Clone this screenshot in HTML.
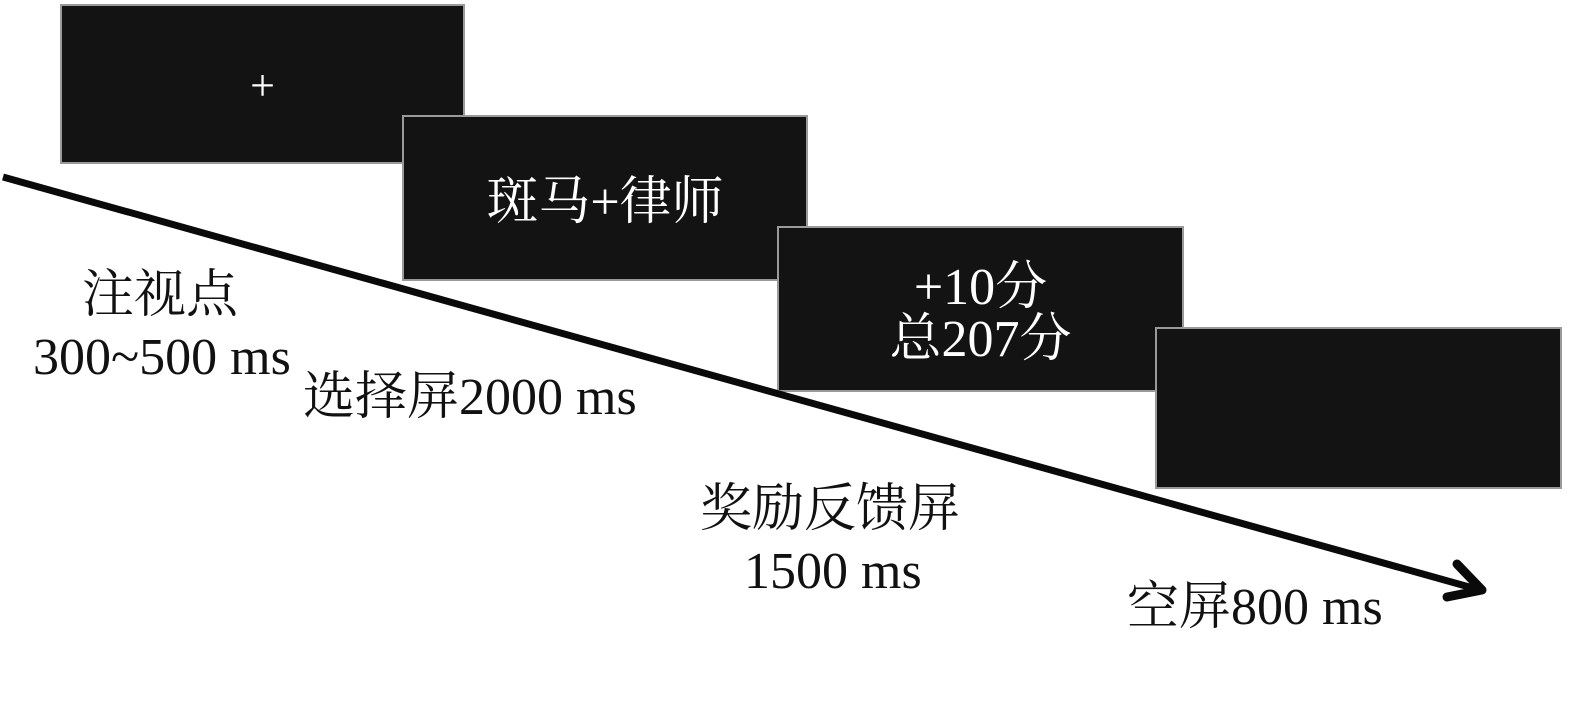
<!DOCTYPE html>
<html><head><meta charset="utf-8"><style>
body{margin:0;width:1575px;height:725px;background:#fff;position:relative;overflow:hidden;font-family:"Liberation Serif","Noto Serif CJK SC",serif;}
.b{position:absolute;background:#131313;border:2px solid #9a9a9a;box-sizing:border-box;color:#fff;text-align:center;}
.t{position:absolute;font-size:52px;color:#111;white-space:nowrap;line-height:1;}
</style></head><body>
<div class="b" style="left:60px;top:4px;width:405px;height:160px;"><div style="position:absolute;left:0;right:0;top:58px;font-size:44px;line-height:1;">+</div></div>
<div class="b" style="left:402px;top:115px;width:406px;height:166px;"><div style="position:absolute;left:0;right:0;top:60px;font-size:52px;line-height:1;">斑马+律师</div></div>
<div class="b" style="left:777px;top:226px;width:407px;height:166px;"><div style="position:absolute;left:0;right:0;top:34px;font-size:52px;line-height:1;">+10分<br>总207分</div></div>
<div class="b" style="left:1155px;top:327px;width:407px;height:162px;"></div>
<svg style="position:absolute;left:0;top:0" width="1575" height="725">
<path d="M3 177 L1480 590" stroke="#0a0a0a" stroke-width="7" fill="none"/>
<path d="M1457 564 L1482 590 L1447 597" stroke="#0a0a0a" stroke-width="9" fill="none" stroke-linecap="round" stroke-linejoin="round"/>
</svg>
<div class="t" style="left:82px;top:270px;">注视点</div>
<div class="t" style="left:33px;top:332px;">300~500 ms</div>
<div class="t" style="left:303px;top:372px;">选择屏2000 ms</div>
<div class="t" style="left:700px;top:484px;">奖励反馈屏</div>
<div class="t" style="left:744px;top:546px;">1500 ms</div>
<div class="t" style="left:1127px;top:582px;">空屏800 ms</div>
</body></html>
